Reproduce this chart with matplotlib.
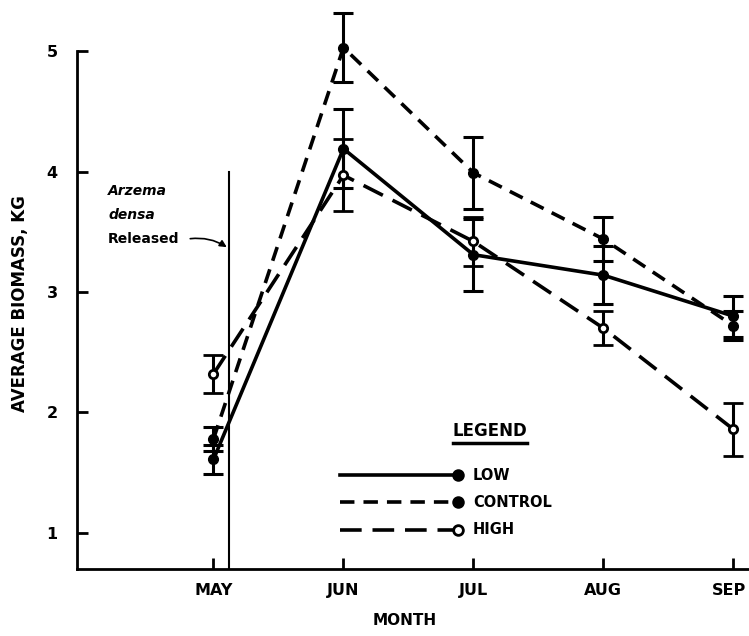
import matplotlib
matplotlib.use('Agg')
from matplotlib import pyplot as plt
from matplotlib.transforms import ScaledTranslation

plt.rcParams['font.family'] = ['DejaVu Sans']
plt.rcParams['font.weight'] = 'bold'

months = ['MAY', 'JUN', 'JUL', 'AUG', 'SEP']
low = [1.61, 4.19, 3.31, 3.14, 2.80]
low_err = [0.12, 0.33, 0.30, 0.24, 0.17]
control = [1.78, 5.03, 3.99, 3.44, 2.72]
control_err = [0.10, 0.29, 0.30, 0.18, 0.12]
high = [2.32, 3.97, 3.42, 2.70, 1.86]
high_err = [0.16, 0.30, 0.20, 0.14, 0.22]
yticks = [1, 2, 3, 4, 5]

x = list(range(len(months)))

fig = plt.figure(figsize=(7.49, 6.36), dpi=100)
ax = fig.add_axes([0.1028, 0.1053, 0.8972, 0.8947])

style = dict(color='black', lw=2.6, capsize=7, elinewidth=2.2, capthick=2.2)
ax.errorbar(x, low, yerr=low_err, fmt='-o', ms=7, mfc='black', **style)
ax.errorbar(x, control, yerr=control_err, fmt='--o', ms=7, mfc='black',
            dashes=(4, 2.5), **style)
ax.errorbar(x, high, yerr=high_err, fmt='--o', ms=6, mfc='white', mew=2,
            dashes=(6, 3), **style)

ax.set_xlim(-1.05, 4.12)
ax.set_ylim(0.7, 5.425)
ax.set_xticks(x)
ax.set_xticklabels(months)
ax.set_yticks(yticks)
ax.tick_params(direction='in', length=8, width=2, labelsize=11.5, pad=10)
ax.tick_params(axis='y', pad=14)
# nudge SEP left so it stays inside the figure
sep = ax.get_xticklabels()[-1]
sep.set_transform(sep.get_transform() + ScaledTranslation(-0.04, 0, fig.dpi_scale_trans))
for s in ['top', 'right']:
    ax.spines[s].set_visible(False)
ax.spines['left'].set_bounds(0.7, 5.0)
ax.spines['left'].set_linewidth(2)
ax.spines['bottom'].set_linewidth(2)

ax.set_xlabel('MONTH', fontsize=11, fontweight='bold')
ax.xaxis.set_label_coords(0.488, -0.078)
ax.set_ylabel('AVERAGE BIOMASS, KG', fontsize=12, fontweight='bold')
ax.yaxis.set_label_coords(-0.072, 0.466)

# release marker
ax.plot([0.12, 0.12], [0.7, 4.0], color='black', lw=1.5)
ax.text(-0.81, 3.84, 'Arzema', fontsize=10, style='italic', weight='bold', va='center')
ax.text(-0.81, 3.64, 'densa', fontsize=10, style='italic', weight='bold', va='center')
ax.text(-0.81, 3.44, 'Released', fontsize=10, weight='bold', va='center')
ax.annotate('', xy=(0.12, 3.36), xytext=(-0.2, 3.44),
            arrowprops=dict(arrowstyle='-|>', color='black', lw=1.2,
                            connectionstyle='arc3,rad=-0.2'))

# legend drawn by hand
ax.text(0.615, 0.242, 'LEGEND', transform=ax.transAxes, fontsize=12,
        weight='bold', ha='center', va='center')
ax.plot([0.560, 0.670], [0.221, 0.221], transform=ax.transAxes,
        color='black', lw=2.5)
entries = [('LOW', '-', None, 'black'), ('CONTROL', '--', (4, 2.5), 'black'),
           ('HIGH', '--', (6, 3), 'white')]
for i, (name, ls, dash, fc) in enumerate(entries):
    yy = 0.165 - i * 0.048
    kw = {} if dash is None else {'dashes': dash}
    ax.plot([0.391, 0.567], [yy, yy], transform=ax.transAxes, color='black',
            lw=2.6, ls=ls, **kw)
    ax.plot([0.567], [yy], transform=ax.transAxes, marker='o', ms=7,
            color='black', mfc=fc, mew=2)
    ax.text(0.589, yy, name, transform=ax.transAxes, fontsize=10.5,
            weight='bold', va='center')

fig.savefig('out.png', dpi=100)
